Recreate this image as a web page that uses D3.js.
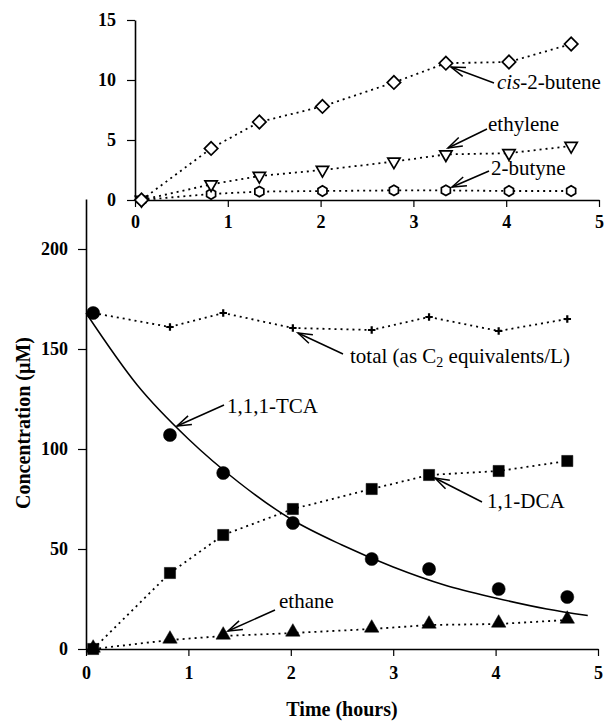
<!DOCTYPE html>
<html>
<head>
<meta charset="utf-8">
<script src="https://cdn.jsdelivr.net/npm/d3@7"></script>
<style>
  body { margin: 0; background: #fff; }
</style>
</head>
<body>
<div id="chart"></div>
<script>
// Sampling times (hours), shared by all series
var times = [0.07, 0.82, 1.34, 2.02, 2.79, 3.35, 4.03, 4.70];

// Top panel (µM)
var cisButene = [0, 4.3, 6.5, 7.8, 9.8, 11.4, 11.5, 13.0];
var ethylene  = [0, 1.3, 2.0, 2.5, 3.2, 3.8, 3.9, 4.5];
var butyne    = [0, 0.5, 0.7, 0.75, 0.8, 0.8, 0.75, 0.75];

// Bottom panel (µM)
var tca    = [168, 107, 88, 63, 45, 40, 30, 26];
var dca    = [0, 38, 57, 70, 80, 87, 89, 94];
var ethane = [0, 4.5, 6.5, 8, 10, 12, 12.5, 14.5];
var total  = [168, 161, 168, 160.5, 159.5, 166, 159, 165];

// Fitted 1,1,1-TCA curve
var fitTimes = [0, 0.5, 1, 1.5, 2, 2.5, 3, 3.5, 4, 4.5, 4.9];
var fitTca   = [168, 132, 105, 83, 65, 52, 41, 32, 25.5, 20, 16.7];

var xTicks = [0, 1, 2, 3, 4, 5];
var topYTicks = [0, 5, 10, 15];
var botYTicks = [0, 50, 100, 150, 200];

var width = 606, height = 721;
var serif = "'Liberation Serif', 'Times New Roman', serif";

var svg = d3.select("#chart")
    .append("svg")
    .attr("width", width)
    .attr("height", height);

// Scales
var xTop = d3.scaleLinear().domain([0, 5]).range([135, 599]);
var yTop = d3.scaleLinear().domain([0, 15]).range([200, 20]);
var xBot = d3.scaleLinear().domain([0, 5]).range([86, 598]);
var yBot = d3.scaleLinear().domain([0, 225]).range([649, 199]);

function styleAxis(g) {
    g.attr("font-family", null);
    g.select(".domain").attr("stroke", "#000").attr("stroke-width", 1.6);
    g.selectAll(".tick line").attr("stroke", "#000").attr("stroke-width", 1.2);
    g.selectAll(".tick text")
        .style("font-family", serif)
        .style("font-weight", "bold")
        .style("font-size", "18px");
}

// Top panel axes
svg.append("g")
    .attr("transform", "translate(0," + yTop(0) + ")")
    .call(d3.axisBottom(xTop).tickValues(xTicks).tickFormat(d3.format("d"))
        .tickSize(7).tickSizeOuter(0).tickPadding(8))
    .call(styleAxis);
svg.append("g")
    .attr("transform", "translate(" + xTop(0) + ",0)")
    .call(d3.axisLeft(yTop).tickValues(topYTicks).tickFormat(d3.format("d"))
        .tickSize(8).tickSizeOuter(0).tickPadding(11))
    .call(styleAxis);

// Bottom panel axes
svg.append("g")
    .attr("transform", "translate(0," + yBot(0) + ")")
    .call(d3.axisBottom(xBot).tickValues(xTicks).tickFormat(d3.format("d"))
        .tickSize(7).tickSizeOuter(0).tickPadding(10))
    .call(styleAxis);
svg.append("g")
    .attr("transform", "translate(" + xBot(0) + ",0)")
    .call(d3.axisLeft(yBot).tickValues(botYTicks).tickFormat(d3.format("d"))
        .tickSize(8).tickSizeOuter(0).tickPadding(10))
    .call(styleAxis);

// Axis titles
svg.append("text")
    .attr("transform", "translate(30,423) rotate(-90)")
    .attr("text-anchor", "middle")
    .style("font-family", serif)
    .style("font-weight", "bold")
    .style("font-size", "20px")
    .text("Concentration (\u00b5M)");
svg.append("text")
    .attr("x", 342).attr("y", 716)
    .attr("text-anchor", "middle")
    .style("font-family", serif)
    .style("font-weight", "bold")
    .style("font-size", "20px")
    .text("Time (hours)");

// Dotted connecting lines
function dotted(vals, x, y) {
    var line = d3.line()
        .x(function(d, i) { return x(times[i]); })
        .y(function(d) { return y(d); });
    svg.append("path")
        .datum(vals)
        .attr("d", line)
        .attr("fill", "none")
        .attr("stroke", "#000")
        .attr("stroke-width", 1.8)
        .attr("stroke-dasharray", "2,4");
}

dotted(cisButene, xTop, yTop);
dotted(ethylene, xTop, yTop);
dotted(butyne, xTop, yTop);
dotted(total, xBot, yBot);
dotted(dca, xBot, yBot);
dotted(ethane, xBot, yBot);

// Fitted curve
svg.append("path")
    .datum(fitTca)
    .attr("d", d3.line()
        .x(function(d, i) { return xBot(fitTimes[i]); })
        .y(function(d) { return yBot(d); })
        .curve(d3.curveMonotoneX))
    .attr("fill", "none")
    .attr("stroke", "#000")
    .attr("stroke-width", 1.5);

// Markers
var hexagon = {
    draw: function(ctx, size) {
        var r = Math.sqrt(size / 2.598);
        for (var k = 0; k < 6; k++) {
            var a = Math.PI / 6 + k * Math.PI / 3;
            if (k === 0) ctx.moveTo(r * Math.cos(a), r * Math.sin(a));
            else ctx.lineTo(r * Math.cos(a), r * Math.sin(a));
        }
        ctx.closePath();
    }
};
var plus = {
    draw: function(ctx, size) {
        var r = Math.sqrt(size) / 2;
        ctx.moveTo(-r, 0); ctx.lineTo(r, 0);
        ctx.moveTo(0, -r); ctx.lineTo(0, r);
    }
};

function markers(vals, x, y, type, size, filled, rot, dy) {
    svg.append("g").selectAll("path")
        .data(vals)
        .enter().append("path")
        .attr("transform", function(d, i) {
            return "translate(" + x(times[i]) + "," + (y(d) + (dy || 0)) + ") rotate(" + (rot || 0) + ")";
        })
        .attr("d", d3.symbol().type(type).size(size))
        .attr("fill", filled ? "#000" : "#fff")
        .attr("stroke", "#000")
        .attr("stroke-width", filled ? 0.5 : 1.7);
}

markers(butyne, xTop, yTop, hexagon, 70, false);
markers(ethylene, xTop, yTop, d3.symbolTriangle, 65, false, 180);
markers(cisButene, xTop, yTop, d3.symbolSquare, 90, false, 45);

markers(tca, xBot, yBot, d3.symbolCircle, 135, true);
markers(dca, xBot, yBot, d3.symbolSquare, 125, true);
markers(ethane, xBot, yBot, d3.symbolTriangle, 90, true, 0, -1);
svg.append("g").selectAll("path")
    .data(total)
    .enter().append("path")
    .attr("transform", function(d, i) { return "translate(" + xBot(times[i]) + "," + yBot(d) + ")"; })
    .attr("d", d3.symbol().type(plus).size(56))
    .attr("fill", "none")
    .attr("stroke", "#000")
    .attr("stroke-width", 2.2);

// Annotations with open arrowheads
function annotate(label, tx, ty, x1, y1, x2, y2) {
    svg.append("line")
        .attr("x1", x1).attr("y1", y1).attr("x2", x2).attr("y2", y2)
        .attr("stroke", "#000").attr("stroke-width", 1.5);
    var ang = Math.atan2(y1 - y2, x1 - x2), len = 15, spread = 0.32;
    var head = d3.path();
    head.moveTo(x2 + len * Math.cos(ang - spread), y2 + len * Math.sin(ang - spread));
    head.lineTo(x2, y2);
    head.lineTo(x2 + len * Math.cos(ang + spread), y2 + len * Math.sin(ang + spread));
    svg.append("path").attr("d", head.toString())
        .attr("fill", "none").attr("stroke", "#000").attr("stroke-width", 1.5);
    var t = svg.append("text")
        .attr("x", tx).attr("y", ty)
        .style("font-family", serif)
        .style("font-size", "21px");
    if (typeof label === "string") {
        t.text(label);
    } else {
        label.forEach(function(p) {
            var s = t.append("tspan").text(p.t);
            if (p.i) s.style("font-style", "italic");
            if (p.sub) s.attr("baseline-shift", "-30%").style("font-size", "14px");
        });
    }
}

annotate([{ t: "cis", i: true }, { t: "-2-butene" }], 497, 89, 494, 83, 451, 67);
annotate("ethylene", 488, 131, 487, 129, 448, 148);
annotate("2-butyne", 491, 175, 489, 171, 452, 187);
annotate([{ t: "total (as C" }, { t: "2", sub: true }, { t: " equivalents/L)" }], 350, 363, 343, 354, 298, 333);
annotate("1,1,1-TCA", 227, 413, 224, 405, 177, 426);
annotate("1,1-DCA", 487, 508, 482, 502, 435, 478);
annotate("ethane", 279, 608, 275, 610, 228, 631);
</script>
</body>
</html>
